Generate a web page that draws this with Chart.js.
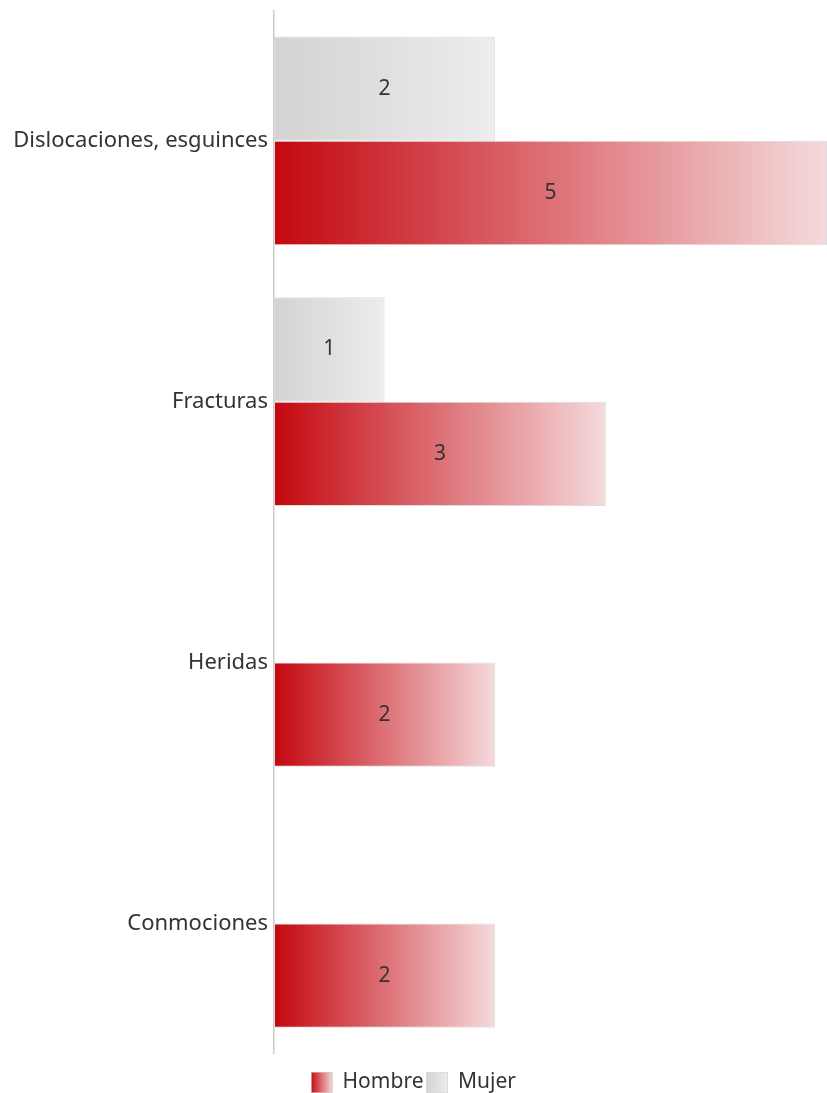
<!DOCTYPE html>
<html>
<head>
<meta charset="utf-8">
<script src="https://cdn.jsdelivr.net/npm/chart.js@4/dist/chart.umd.min.js"></script>
<style>
  html, body { margin: 0; padding: 0; background: #fff; }
  #wrap { width: 827px; height: 1093px; }
</style>
</head>
<body>
<div id="wrap"><canvas id="chart" width="827" height="1093"></canvas></div>
<script>
(function app() {

    const categories = ['Dislocaciones, esguinces', 'Fracturas', 'Heridas', 'Conmociones'];
    const hombreValues = [5, 3, 2, 2];
    const mujerValues = [2, 1, null, null];

    const hombreColors = ['#c4070f', '#f5dadc'];
    const mujerColors = ['#d3d3d3', '#eeeced'];

    Chart.defaults.font.family = "'Noto Sans', sans-serif";
    Chart.defaults.color = '#333333';

    function barGradient(colors) {
        return context => {
            const chart = context.chart;
            const xScale = chart.scales.x;
            if (!chart.chartArea || !xScale || context.raw == null) {
                return colors[0];
            }
            const start = xScale.getPixelForValue(0);
            const end = xScale.getPixelForValue(context.raw);
            const gradient = chart.ctx.createLinearGradient(start, 0, end, 0);
            gradient.addColorStop(0, colors[0]);
            gradient.addColorStop(1, colors[1]);
            return gradient;
        };
    }

    function legendSwatch(colors) {
        const swatch = document.createElement('canvas');
        swatch.width = 22;
        swatch.height = 22;
        const c = swatch.getContext('2d');
        const gradient = c.createLinearGradient(0, 0, 22, 0);
        gradient.addColorStop(0, colors[0]);
        gradient.addColorStop(1, colors[1]);
        c.fillStyle = gradient;
        c.fillRect(0, 0, 22, 22);
        c.strokeStyle = '#d9d9d9';
        c.lineWidth = 1;
        c.strokeRect(0.5, 0.5, 21, 21);
        return swatch;
    }

    const valueLabels = {
        id: 'valueLabels',
        afterDatasetsDraw(chart) {
            const ctx = chart.ctx;
            ctx.save();
            ctx.font = "21px 'Noto Sans', sans-serif";
            ctx.fillStyle = '#333333';
            ctx.textAlign = 'center';
            ctx.textBaseline = 'middle';
            chart.data.datasets.forEach((dataset, i) => {
                chart.getDatasetMeta(i).data.forEach((bar, j) => {
                    const value = dataset.data[j];
                    if (value == null) return;
                    ctx.fillText(String(value), (bar.x + bar.base) / 2, bar.y);
                });
            });
            ctx.restore();
        }
    };

    const swatches = {
        Hombre: legendSwatch(hombreColors),
        Mujer: legendSwatch(mujerColors)
    };

    new Chart(document.getElementById('chart'), {
        type: 'bar',
        data: {
            labels: categories,
            datasets: [{
                label: 'Mujer',
                data: mujerValues,
                backgroundColor: barGradient(mujerColors),
                borderColor: '#dcdcdc',
                borderWidth: 1,
                borderSkipped: false,
                categoryPercentage: 0.8,
                barPercentage: 1.0
            }, {
                label: 'Hombre',
                data: hombreValues,
                backgroundColor: barGradient(hombreColors),
                borderColor: '#dcdcdc',
                borderWidth: 1,
                borderSkipped: false,
                categoryPercentage: 0.8,
                barPercentage: 1.0
            }]
        },
        options: {
            indexAxis: 'y',
            responsive: false,
            animation: false,
            layout: {
                padding: { top: 0, right: 0, bottom: -10, left: 0 }
            },
            scales: {
                x: {
                    display: false,
                    min: 0,
                    max: 5
                },
                y: {
                    grid: { display: false, drawTicks: false, tickLength: 0 },
                    border: { display: true, color: '#cccccc', width: 1.5 },
                    ticks: {
                        font: { size: 22, lineHeight: 0.4 },
                        color: '#333333',
                        padding: 6
                    },
                    afterFit: scale => { scale.width = 274; }
                }
            },
            plugins: {
                legend: {
                    position: 'bottom',
                    reverse: true,
                    title: {
                        display: true,
                        text: '',
                        font: { size: 1 },
                        padding: { top: 10, bottom: 4 }
                    },
                    labels: {
                        usePointStyle: true,
                        boxWidth: 22,
                        boxHeight: 22,
                        padding: 3,
                        font: { size: 21, lineHeight: 1 },
                        color: '#333333',
                        generateLabels: chart => chart.data.datasets.map((dataset, i) => ({
                            text: dataset.label,
                            pointStyle: swatches[dataset.label],
                            fillStyle: 'transparent',
                            strokeStyle: 'transparent',
                            lineWidth: 0,
                            hidden: false,
                            datasetIndex: i
                        }))
                    }
                },
                tooltip: { enabled: false }
            }
        },
        plugins: [valueLabels]
    });
})();
</script>
</body>
</html>
